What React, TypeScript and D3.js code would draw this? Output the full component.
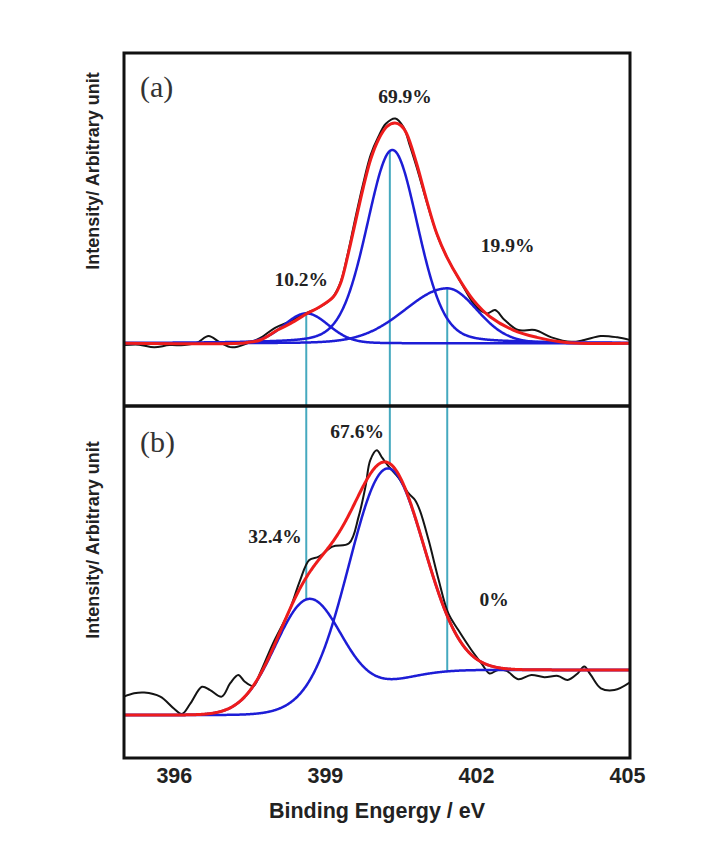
import React from "react";
import * as d3 from "d3";

// ---------- Data ----------
// Panel (a): measured N 1s spectrum (binding energy eV, intensity a.u.)
const specA_eV = [395.0, 395.3, 395.6, 395.9, 396.2, 396.45, 396.68, 396.9, 397.15, 397.45, 397.7, 398.0, 398.3, 398.6, 398.9, 399.15, 399.3, 399.45, 399.6, 399.75, 399.9, 400.05, 400.2, 400.39, 400.55, 400.68, 400.81, 401.08, 401.25, 401.41, 401.74, 401.94, 402.1, 402.22, 402.37, 402.56, 402.83, 403.16, 403.49, 403.88, 404.14, 404.47, 404.8, 405.05];
const specA_int = [-0.8, -0.6, -1.8, -0.8, -0.8, 0.3, 3.3, 0.5, -1.8, 0.0, 2.3, 7, 10, 13.5, 16.5, 21, 27.5, 41, 57, 72, 85, 93, 99, 101.4, 97.5, 89, 79.6, 58.6, 47, 39, 25.5, 18, 14.5, 13.5, 15, 10.5, 6, 6, 2.7, 0.7, 1.5, 3.3, 2.7, 1.5];

// Panel (a): overall fit envelope (red)
const fitA_eV = [395.0, 397.3, 397.45, 397.71, 398.05, 398.31, 398.64, 398.89, 399.16, 399.3, 399.45, 399.6, 399.75, 399.9, 400.05, 400.22, 400.38, 400.5, 400.61, 400.81, 401.01, 401.21, 401.41, 401.67, 401.94, 402.27, 402.73, 403.2, 403.66, 404.06, 405.05];
const fitA_int = [0, 0, 0.4, 1.5, 6, 9, 13.5, 16.5, 21, 27, 40, 55, 70, 83, 91.7, 97.7, 99.3, 98.2, 94.7, 81.2, 64.6, 49.6, 39, 28.5, 19.5, 12, 6, 2.7, 0.7, 0, 0];

// Panel (a): fitted components (blue)
const peakA_center = [398.62, 400.33, 401.42];
const peakA_height = [13.5, 87.2, 24.8];
const peakA_fwhmLeft = [1.05, 1.2, 2.0];
const peakA_fwhmRight = [1.05, 1.2, 1.4];
const peakA_lorentz = [0.1, 0.2, 0.1];
const pctA = ["10.2%", "69.9%", "19.9%"];

// Panel (b): measured spectrum
const specB_eV = [395.0, 395.2, 395.4, 395.72, 395.99, 396.15, 396.32, 396.55, 396.71, 396.94, 397.11, 397.27, 397.4, 397.57, 397.7, 397.96, 398.29, 398.49, 398.68, 398.87, 399.14, 399.47, 399.66, 399.8, 399.89, 400.02, 400.13, 400.26, 400.45, 400.65, 400.78, 400.88, 401.05, 401.25, 401.44, 401.64, 401.9, 402.1, 402.26, 402.43, 402.6, 402.83, 403.09, 403.35, 403.62, 403.81, 404.01, 404.14, 404.27, 404.47, 404.74, 405.05];
const specB_int = [7.3, 8.6, 8.9, 7.3, 2.6, 0.4, 4.6, 11.2, 9.9, 7.3, 12.6, 15.9, 13.2, 11.5, 16.5, 28.4, 41.7, 53, 61.5, 62.8, 66.8, 68.1, 78.7, 91, 101, 105, 102, 98.5, 94.2, 88, 85.3, 81, 69.4, 53.6, 40.4, 33.7, 25.8, 20.5, 16.5, 17.9, 17.5, 14.2, 15.9, 15, 15.5, 13.9, 16.5, 19.2, 15.9, 10.6, 9.9, 13];

// Panel (b): fitted components (+ Shirley step)
const peakB_center = [398.65, 400.2];
const peakB_height = [43, 86];
const peakB_fwhm = [1.55, 1.74];
const peakB_lorentz = [0, 0];
const shirleyStepB = 17.9;
const pctB = ["32.4%", "67.6%", "0%"];

// Reference lines (eV)
const refLines = [398.62, 400.28, 401.42];
const xTicks = [396, 399, 402, 405];

// ---------- Helpers ----------
function pv(x: number, c: number, h: number, wL: number, wR: number, eta: number) {
  const w = x < c ? wL : wR;
  const r = (x - c) / w;
  return h * ((1 - eta) * Math.exp(-4 * Math.LN2 * r * r) + eta / (1 + 4 * r * r));
}

const grid = d3.range(395, 405.0501, 0.01);

// Panel a components
const compsA = peakA_center.map((c, i) =>
  grid.map((x) => pv(x, c, peakA_height[i], peakA_fwhmLeft[i], peakA_fwhmRight[i], peakA_lorentz[i]))
);

// Panel b
const rawB = peakB_center.map((c, i) =>
  grid.map((x) => pv(x, c, peakB_height[i], peakB_fwhm[i], peakB_fwhm[i], peakB_lorentz[i]))
);
const sumRawB = grid.map((_, k) => rawB.reduce((s, comp) => s + comp[k], 0));
const cumB: number[] = [];
sumRawB.reduce((acc, v, k) => { cumB[k] = acc + v; return acc + v; }, 0);
const totB = cumB[cumB.length - 1];
const bgB = cumB.map((v) => (shirleyStepB * v) / totB);
const compsB = rawB.map((comp) => comp.map((v, k) => v + bgB[k]));
const fitB = grid.map((_, k) => sumRawB[k] + bgB[k]);

// ---------- Layout ----------
const W = 707, H = 842;
const L = 124, R = 630, T = 53, MID = 406, B = 758;
const x = d3.scaleLinear().domain([395, 405.05]).range([L, R]);
const yA = d3.scaleLinear().domain([-28.7, 130.9]).range([407, T]);
const yB = d3.scaleLinear().domain([-17.06, 122.2]).range([B, 407]);

function pathFrom(xs: number[], ys: number[], y: d3.ScaleLinear<number, number>, smooth = false) {
  const gen = d3.line<number>()
    .x((_, i) => x(xs[i]))
    .y((_, i) => y(ys[i]));
  if (smooth) gen.curve(d3.curveCatmullRom.alpha(0.5));
  return gen(ys) || "";
}

function valAt(arr: number[], e: number) {
  const k = Math.round((e - 395) / 0.01);
  return arr[Math.max(0, Math.min(arr.length - 1, k))];
}

const BLACK = "#141414";
const RED = "#ee1c1c";
const BLUE = "#1d1dd6";
const CYAN = "#45a9bf";

export default function App() {
  const topStart = refLines.map((e) => Math.max(...compsA.map((c) => valAt(c, e))));
  const botEnd = refLines.map((e, i) => (i === 1 ? valAt(fitB, e) : valAt(compsB[0], e)));

  return (
    <svg width={W} height={H} style={{ position: "absolute", left: 0, top: 0, background: "#fff" }}>
      <defs>
        <clipPath id="clipA"><rect x={L} y={T} width={R - L} height={MID - T} /></clipPath>
        <clipPath id="clipB"><rect x={L} y={MID} width={R - L} height={B - MID} /></clipPath>
      </defs>

      {/* reference lines */}
      {refLines.map((e, i) => (
        <line key={i} x1={x(e)} x2={x(e)} y1={yA(topStart[i])} y2={yB(botEnd[i])}
          stroke={CYAN} strokeWidth={2} />
      ))}

      {/* panel a */}
      <g clipPath="url(#clipA)" fill="none" strokeLinejoin="round">
        <path d={pathFrom(specA_eV, specA_int, yA, true)} stroke={BLACK} strokeWidth={2} />
        {compsA.map((c, i) => (
          <path key={i} d={pathFrom(grid, c, yA)} stroke={BLUE} strokeWidth={2.5} />
        ))}
        <path d={pathFrom(fitA_eV, fitA_int, yA, true)} stroke={RED} strokeWidth={3} />
      </g>

      {/* panel b */}
      <g clipPath="url(#clipB)" fill="none" strokeLinejoin="round">
        <path d={pathFrom(specB_eV, specB_int, yB, true)} stroke={BLACK} strokeWidth={2} />
        {compsB.map((c, i) => (
          <path key={i} d={pathFrom(grid, c, yB)} stroke={BLUE} strokeWidth={2.5} />
        ))}
        <path d={pathFrom(grid, fitB, yB)} stroke={RED} strokeWidth={3} />
      </g>

      {/* frame */}
      <rect x={L} y={T} width={R - L} height={B - T} fill="none" stroke="#111" strokeWidth={3} />
      <line x1={L} x2={R} y1={MID} y2={MID} stroke="#111" strokeWidth={3.5} />

      {/* panel letters */}
      <text x={140} y={97} fontFamily="'Liberation Serif', 'DejaVu Serif', serif" fontSize={30} fill="#333">(a)</text>
      <text x={140} y={452} fontFamily="'Liberation Serif', 'DejaVu Serif', serif" fontSize={30} fill="#333">(b)</text>

      {/* percentage labels */}
      <g fontFamily="'Liberation Serif', 'DejaVu Serif', serif" fontWeight="bold" fontSize={19.5} fill="#222" textAnchor="middle">
        <text x={x(398.52)} y={yA(25.8)}>{pctA[0]}</text>
        <text x={x(400.58)} y={yA(108.3)}>{pctA[1]}</text>
        <text x={x(402.62)} y={yA(41.2)}>{pctA[2]}</text>
        <text x={x(398.0)} y={yB(68.3)}>{pctB[0]}</text>
        <text x={x(399.63)} y={yB(109.9)}>{pctB[1]}</text>
        <text x={x(402.35)} y={yB(43.3)}>{pctB[2]}</text>
      </g>

      {/* x tick labels */}
      <g fontFamily="'Liberation Sans', Arial, sans-serif" fontWeight="bold" fontSize={21.5} fill="#222" textAnchor="middle">
        {xTicks.map((t) => (
          <text key={t} x={x(t)} y={783}>{t}</text>
        ))}
        <text x={377} y={818}>Binding Engergy / eV</text>
      </g>

      {/* y labels */}
      <g fontFamily="'Liberation Sans', Arial, sans-serif" fontWeight="bold" fontSize={18} fill="#222" textAnchor="middle">
        <text transform="translate(99,171) rotate(-90)">Intensity/ Arbitrary unit</text>
        <text transform="translate(99,540) rotate(-90)">Intensity/ Arbitrary unit</text>
      </g>
    </svg>
  );
}
